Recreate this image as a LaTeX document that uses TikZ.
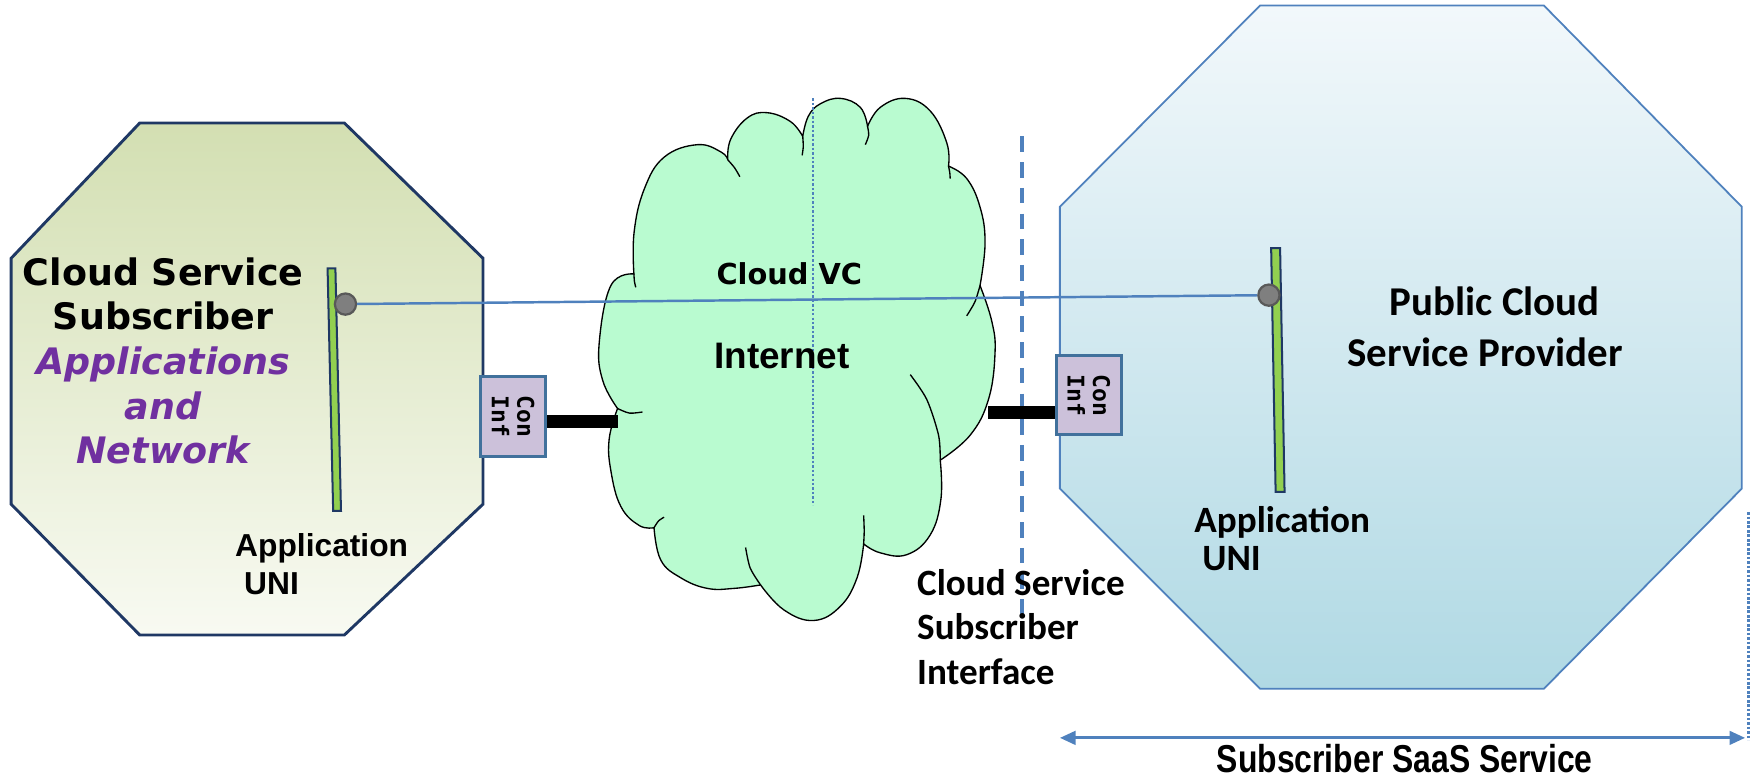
\documentclass[tikz,border=0pt]{standalone}
\usepackage{fontspec}
\setmainfont{DejaVu Sans}
\newfontfamily\fVerd{DejaVu Sans}
\newfontfamily\fMono{DejaVu Sans Mono}
\newfontfamily\fArial{Liberation Sans}
\newfontfamily\fNarrow[FakeStretch=0.82]{Liberation Sans}
\newfontfamily\fCal{Carlito}
\usetikzlibrary{arrows.meta}
\definecolor{navy}{HTML}{1F3864}
\definecolor{lblue}{HTML}{4F81BD}
\definecolor{boxblue}{HTML}{41719C}
\definecolor{lav}{HTML}{CCC1DA}
\definecolor{cloudg}{HTML}{B9FBD0}
\definecolor{ugreen}{HTML}{92D050}
\definecolor{purp}{HTML}{7030A0}
\definecolor{octGtop}{HTML}{D3DFB2}
\definecolor{octGbot}{HTML}{F8FAF2}
\definecolor{octBtop}{HTML}{F2F8FB}
\definecolor{octBbot}{HTML}{B0D9E4}
\definecolor{dotgray}{HTML}{7F7F7F}
\definecolor{dotedge}{HTML}{595959}
\tikzset{
  txt/.style={inner sep=0pt, anchor=base},
  txtw/.style={inner sep=0pt, anchor=base west},
  bigV/.style={font=\fVerd\bfseries\fontsize{16.3pt}{20pt}\selectfont},
  appA/.style={font=\fArial\bfseries\fontsize{14.2pt}{17pt}\selectfont},
  calS/.style={font=\fCal\bfseries\fontsize{16.6pt}{20pt}\selectfont},
  calL/.style={font=\fCal\bfseries\fontsize{18.3pt}{22pt}\selectfont},
  unibar/.style={draw=navy, line width=0.9pt, fill=ugreen},
  endpt/.style={circle, minimum size=9.5pt, inner sep=0pt, fill=dotgray, draw=dotedge, line width=1pt},
  coninf/.style={rectangle, rotate=-90, draw=boxblue, line width=1.3pt, fill=lav,
    minimum width=35.5pt, minimum height=29pt, inner sep=0pt, align=center,
    font=\fMono\bfseries\fontsize{10.3pt}{11.5pt}\selectfont},
  blackbar/.style={line width=6pt, black},
  vcline/.style={lblue, line width=1.1pt},
  tail/.style={draw=black, line width=0.6pt},
}
\begin{document}
\begin{tikzpicture}[x=0.5pt,y=-0.5pt]
\useasboundingbox (0,0) rectangle (1568,696);
% octagons
\path[draw=navy, line width=1.3pt, top color=octGtop, bottom color=octGbot]
  (125,110) -- (308,110) -- (432,231) -- (432,451) -- (308,568) -- (125,568) -- (10,451) -- (10,231) -- cycle;
\path[draw=lblue, line width=0.8pt, top color=octBtop, bottom color=octBbot]
  (1127,5) -- (1381,5) -- (1558,185) -- (1558,437) -- (1381,616) -- (1127,616) -- (948,437) -- (948,185) -- cycle;
% cloud
\path[draw=black, line width=0.6pt, fill=cloudg]
  (567,245)
  -- plot[smooth, tension=0.7] coordinates {(567,245) (567.2,207.6) (576.2,169.3) (594,140.6) (623.8,129.4) (645,136) (651,143)}
  -- plot[smooth, tension=0.7] coordinates {(651,143) (653.5,124.7) (668.4,105.5) (686.2,100.8) (707,108.7) (718,122)}
  -- plot[smooth, tension=0.7] coordinates {(718,122) (723,104) (733.8,92.8) (751.7,88) (769.5,96) (776,113)}
  -- plot[smooth, tension=0.7] coordinates {(776,113) (787.4,96) (809.7,88) (832,99.2) (846.9,127.9) (848.4,148.6)}
  -- plot[smooth, tension=0.7] coordinates {(848.4,148.6) (864.7,159.7) (876.6,185.2) (881.1,217.1) (876.6,255.4)}
  -- plot[smooth, tension=0.7] coordinates {(876.6,255.4) (887.1,287.3) (890,316) (884.1,357.4) (867.7,389.3) (841,411.6)}
  -- plot[smooth, tension=0.7] coordinates {(841,411.6) (841.6,446.6) (832,478.5) (811.2,496.1) (787.4,494.5) (772.5,486.5)}
  -- plot[smooth, tension=0.7] coordinates {(772.5,486.5) (766.6,516.8) (751.7,542.3) (727.9,555) (701.1,545.5) (680.3,523.2)}
  -- plot[smooth, tension=0.7] coordinates {(680.3,523.2) (656.5,526.3) (632.7,526.3) (608.9,516.8) (591,500.9) (585,472)}
  -- plot[smooth, tension=0.7] coordinates {(585,472) (571.7,470) (555.3,453) (546.4,421.1) (544.9,392.5) (552.4,365.4)}
  -- plot[smooth, tension=0.7] coordinates {(552.4,365.4) (539,340) (536,306.4) (546.4,255.4) (567,245)}
  -- cycle;
% cloud inner tails
\path[tail] plot[smooth] coordinates {(567,245) (567.5,252) (568.7,257)};
\path[tail] plot[smooth] coordinates {(651,143) (657,150) (661.8,158.1)};
\path[tail] plot[smooth] coordinates {(718,122) (718.5,131) (717.5,139)};
\path[tail] plot[smooth] coordinates {(776,113) (777,121) (774,129.4)};
\path[tail] plot[smooth] coordinates {(848.4,148.6) (849.5,154) (849.9,159.7)};
\path[tail] plot[smooth] coordinates {(876.6,255.4) (872,270) (864.7,282.5)};
\path[tail] plot[smooth] coordinates {(814.2,335.1) (829,357.4) (839.5,389.3) (841,411.6)};
\path[tail] plot[smooth] coordinates {(772.5,461) (773,475) (772.5,486.5)};
\path[tail] plot[smooth] coordinates {(680.3,523.2) (671,508) (666.9,489.7)};
\path[tail] plot[smooth] coordinates {(585,472) (589,466) (594,462.6)};
\path[tail] plot[smooth] coordinates {(552.4,365.4) (563,369.5) (574.7,368.5)};
% vertical guide lines
\coordinate (vcTop) at (727,88);
\coordinate (vcBot) at (727,452);
\draw[lblue, line width=1.1pt, dash pattern=on 1.1pt off 0.9pt] (vcTop) -- (vcBot);
\coordinate (ifTop) at (914,122);
\coordinate (ifBot) at (914,565);
\draw[lblue, line width=1.5pt, dash pattern=on 7pt off 4.5pt] (ifTop) -- (ifBot);
\coordinate (edTop) at (1564,458);
\coordinate (edBot) at (1564,662);
\draw[lblue, line width=1.3pt, dash pattern=on 1.2pt off 0.8pt] (edTop) -- (edBot);
% Con Inf boxes (rotated: north = east side, south = west side)
\node[coninf] (boxL) at (459,372.5) {Con\\Inf};
\node[coninf] (boxR) at (974,353.5) {Con\\Inf};
\coordinate (cloudL) at (553,377);
\coordinate (cloudR) at (884,369);
\draw[blackbar] (cloudL -| boxL.north) -- (cloudL);
\draw[blackbar] (cloudR) -- (cloudR -| boxR.south);
% UNI bars
\path[unibar] (293,240) -- (300,240) -- (305,457) -- (298,457) -- cycle;
\path[unibar] (1137,222) -- (1145,222) -- (1149,440) -- (1141,440) -- cycle;
\node[endpt] (cL) at (309,272) {};
\node[endpt] (cR) at (1135,264) {};
\draw[vcline] (cL) -- (cR);
% span arrow
\coordinate (spanL) at (948,660);
\coordinate (spanR) at (1561,660);
\draw[lblue, line width=1.4pt, {Triangle[length=7pt,width=6pt]}-{Triangle[length=7pt,width=6pt]}] (spanL) -- (spanR);
% texts
\node[txt, bigV] (t1) at (146,255) {Cloud Service};
\node[txt, bigV] (t2) at (146,295) {Subscriber};
\node[txt, bigV, text=purp] (t3) at (146,335) {\itshape Applications};
\node[txt, bigV, text=purp] (t4) at (146,375) {\itshape and};
\node[txt, bigV, text=purp] (t5) at (146,415) {\itshape Network};
\node[txtw, appA] (aL1) at (210,498) {Application};
\node[txtw, appA] (aL2) at (218,532) {UNI};
\node[txt, font=\fVerd\bfseries\fontsize{12.9pt}{15pt}\selectfont] (vc) at (706,254.5) {Cloud VC};
\node[txt, font=\fArial\bfseries\fontsize{16.5pt}{20pt}\selectfont] (inet) at (699.5,329.5) {Internet};
\node[txtw, calS] (i1) at (820,533) {Cloud Service};
\node[txtw, calS] (i2) at (820,572) {Subscriber};
\node[txtw, calS] (i3) at (820,612) {Interface};
\node[txt, calL] (p1) at (1337,282) {Public Cloud};
\node[txt, calL] (p2) at (1328.5,328) {Service Provider};
\node[txtw, calS] (aR1) at (1068,476) {Application};
\node[txtw, calS] (aR2) at (1075,510) {UNI};
\node[txt, font=\fNarrow\bfseries\fontsize{17.4pt}{20pt}\selectfont] (saas) at (1256.5,691) {Subscriber SaaS Service};
\end{tikzpicture}
\end{document}
